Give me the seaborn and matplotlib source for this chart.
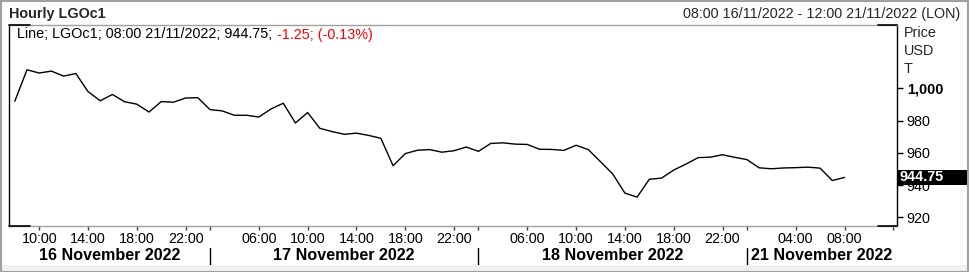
import matplotlib
matplotlib.use("Agg")
import matplotlib.pyplot as plt
import matplotlib.transforms as mtransforms
from matplotlib.patches import Rectangle
from matplotlib.lines import Line2D
import seaborn as sns
import pandas as pd

# ---------------- data ----------------
days = ["16 November 2022", "17 November 2022", "18 November 2022", "21 November 2022"]
day_first_hour = [8, 2, 2, 0]
day_last_hour = [23, 23, 23, 12]
labelled_hours = [[10, 14, 18, 22], [6, 10, 14, 18, 22], [6, 10, 14, 18, 22], [4, 8]]

prices = [
    992.0, 1011.5, 1009.5, 1010.7, 1007.6, 1009.2, 998.0, 992.3, 996.2, 991.7,
    990.2, 985.3, 991.8, 991.4, 994.0, 994.2, 986.8, 986.0, 983.3, 983.3,
    982.2, 987.2, 990.8, 978.5, 985.0, 975.2, 973.2, 971.5, 972.2, 970.8,
    969.0, 952.0, 959.5, 961.6, 962.0, 960.4, 961.3, 963.6, 960.9, 965.8,
    966.2, 965.4, 965.2, 962.2, 962.1, 961.5, 964.7, 962.0, 954.5, 946.9,
    935.0, 932.5, 943.6, 944.3, 949.3, 953.0, 957.0, 957.3, 958.8, 957.2,
    955.8, 950.7, 950.1, 950.6, 950.8, 951.1, 950.5, 942.8, 944.75,
]
y_ticks = [920, 940, 960, 980, 1000]
y_tick_labels = ["920", "940", "960", "980", "1,000"]

title = "Hourly LGOc1"
range_text = "08:00 16/11/2022 - 12:00 21/11/2022 (LON)"
legend_black = "Line; LGOc1; 08:00 21/11/2022; 944.75;"
legend_red = " -1.25; (-0.13%)"
last_price_text = "944.75"
unit_lines = ["Price", "USD", "T"]

# ---------------- build bar axis ----------------
bars = []  # (day index, hour)
for d, (h0, h1) in enumerate(zip(day_first_hour, day_last_hour)):
    for hr in range(h0, h1 + 1):
        bars.append((d, hr))

df = pd.DataFrame({"bar": range(len(prices)), "price": prices})

sns.set_style("white")
plt.rcParams["font.family"] = ["Liberation Sans", "DejaVu Sans"]
FS = 10.4

W, H = 969, 272
fig = plt.figure(figsize=(W / 100, H / 100), dpi=100)
fig.patch.set_facecolor("white")

def fx(px):
    return px / W

def fy(py):
    return 1 - py / H

ax_left, ax_right, ax_top, ax_bottom = 9.3, 897.0, 25.0, 226.0
ax = fig.add_axes([fx(ax_left), fy(ax_bottom), (ax_right - ax_left) / W, (ax_bottom - ax_top) / H])
ax.set_facecolor("white")

sns.lineplot(data=df, x="bar", y="price", ax=ax, color="black", linewidth=1.0)

ax.set_xlim(-0.45, len(bars) - 1 + 0.3)
ax.set_ylim(914.6, 1039.3)
ax.set_xlabel("")
ax.set_ylabel("")

# spines
for s in ["top", "bottom"]:
    ax.spines[s].set_color("#a0a0a0")
    ax.spines[s].set_linewidth(1.0)
for s in ["left", "right"]:
    ax.spines[s].set_color("black")
    ax.spines[s].set_linewidth(1.0)
    ax.spines[s].set_visible(True)
# short black corner segments on the frame
for x0, x1 in [(0, 21 / 888), (1 - 19 / 888, 1)]:
    for yy in [0, 1]:
        ax.add_line(Line2D([x0, x1], [yy, yy], transform=ax.transAxes, color="black",
                           linewidth=1.2, clip_on=False, zorder=5))

# y axis on right
ax.yaxis.tick_right()
ax.set_yticks(y_ticks)
ax.set_yticklabels(y_tick_labels)
ax.tick_params(axis="y", direction="out", length=4, width=1, color="black", pad=3,
               labelsize=FS, labelcolor="black", right=True, left=False)
for lbl in ax.get_yticklabels():
    if lbl.get_text() == "1,000":
        lbl.set_fontweight("bold")

# x ticks
tick_pos, tick_lab = [], []
day_starts = []
for i, (d, hr) in enumerate(bars):
    if hr == day_first_hour[d] and d > 0:
        tick_pos.append(i); tick_lab.append(""); day_starts.append(i)
    elif hr in labelled_hours[d]:
        tick_pos.append(i); tick_lab.append(f"{hr:02d}:00")
    elif i == len(bars) - 1:
        tick_pos.append(i); tick_lab.append("")
ax.set_xticks(tick_pos)
ax.set_xticklabels(tick_lab)
ax.tick_params(axis="x", direction="out", length=3, width=1, color="#404040", pad=1,
               labelsize=FS, labelcolor="black", bottom=True)

# day labels and separators
trans_xfig = mtransforms.blended_transform_factory(ax.transData, fig.transFigure)
xmin, xmax = ax.get_xlim()
bounds = [xmin] + day_starts + [xmax]
for d, name in enumerate(days):
    cx = (bounds[d] + bounds[d + 1]) / 2
    ax.text(cx, fy(255.7), name, transform=trans_xfig, ha="center", va="center",
            fontsize=11.6, fontweight="bold", color="black", clip_on=False)
for s in day_starts:
    ax.add_line(Line2D([s, s], [fy(248), fy(265)], transform=trans_xfig, color="black",
                       linewidth=1.0, clip_on=False))

# title row
fig.text(fx(9), fy(14), title, ha="left", va="center", fontsize=FS, fontweight="bold")
fig.text(fx(960), fy(14.3), range_text, ha="right", va="center", fontsize=FS)

# legend line inside
t1 = fig.text(fx(17.3), fy(34.5), legend_black, ha="left", va="center", fontsize=FS, color="black")
fig.canvas.draw()
ax.annotate(legend_red, xy=(1, 0), xycoords=t1, va="bottom", ha="left",
            fontsize=FS, color="#ff0000", annotation_clip=False)

# unit labels
for k, txt in enumerate(unit_lines):
    fig.text(fx(904), fy(33 + 18 * k), txt, ha="left", va="center", fontsize=FS)

# last price box
trans_fig_data = mtransforms.blended_transform_factory(fig.transFigure, ax.transData)
box_h = 15 / 1.6125
ax.add_patch(Rectangle((fx(898), prices[-1] - box_h / 2), fx(967) - fx(898), box_h,
                       transform=trans_fig_data, facecolor="black", edgecolor="none",
                       clip_on=False, zorder=10))
ax.text(fx(899), prices[-1], last_price_text, transform=trans_fig_data, ha="left", va="center",
        fontsize=FS, fontweight="bold", color="white", zorder=11, clip_on=False)

# outer frame and bottom strip
fig.patches.append(Rectangle((0, 0), 1, fy(265), transform=fig.transFigure,
                             facecolor="#f0f0f0", edgecolor="none", zorder=0))
fig.patches.append(Rectangle((0.5 / W, 0.5 / H), 1 - 1.5 / W, 1 - 1.5 / H, transform=fig.transFigure,
                             facecolor="none", edgecolor="#a0a0a0", linewidth=1.5, zorder=20))

fig.savefig("out.png", dpi=100, facecolor="white")
